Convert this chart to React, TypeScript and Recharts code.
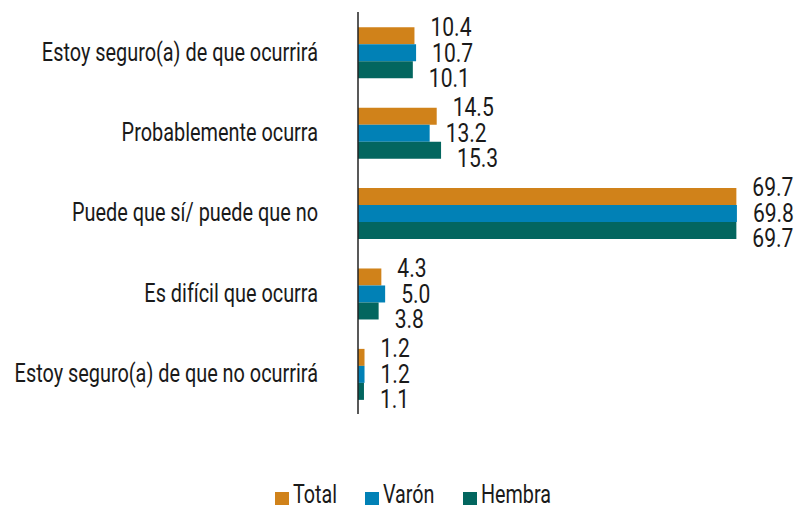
import { BarChart, Bar, XAxis, YAxis, LabelList } from "recharts";

const categories = [
  "Estoy seguro(a) de que ocurrirá",
  "Probablemente ocurra",
  "Puede que sí/ puede que no",
  "Es difícil que ocurra",
  "Estoy seguro(a) de que no ocurrirá",
];
const total = [10.4, 14.5, 69.7, 4.3, 1.2];
const varon = [10.7, 13.2, 69.8, 5.0, 1.2];
const hembra = [10.1, 15.3, 69.7, 3.8, 1.1];

const seriesNames = ["Total", "Varón", "Hembra"];
const colors = ["#D0821A", "#0181B6", "#03665F"];
const FONT = "Roboto, 'Noto Sans', sans-serif";
const FS = 26;
const SX_TEXT = 0.765; // squeeze to look like a condensed face
const SX_NUM = 0.81;
const INK = "#1a1a1a";

const data = categories.map((name, i) => ({
  name,
  total: total[i],
  varon: varon[i],
  hembra: hembra[i],
}));

const Squeezed = ({ x, y, anchor = "start", sx = SX_TEXT, size = FS, children }: any) => (
  <g transform={`translate(${x},${y}) scale(${sx},1)`}>
    <text
      x={0}
      y={0}
      textAnchor={anchor}
      dominantBaseline="central"
      fontSize={size}
      fontFamily={FONT}
      fill={INK}
    >
      {children}
    </text>
  </g>
);

const CatTick = (props: any) => {
  const { x, y, payload } = props;
  return (
    <Squeezed x={x} y={y} anchor="end">
      {payload.value}
    </Squeezed>
  );
};

// labels fan out a bit more than the bars do
const makeLabel = (dy: number) => (props: any) => {
  const { x, y, width, height, value } = props;
  return (
    <Squeezed x={x + width + 16} y={y + height / 2 + dy} sx={SX_NUM}>
      {Number(value).toFixed(1)}
    </Squeezed>
  );
};

const legendX = [275, 365, 463];

export default function App() {
  return (
    <div style={{ position: "absolute", left: 0, top: 0, width: 794, height: 508, background: "#fff" }}>
      <BarChart
        width={794}
        height={508}
        data={data}
        layout="vertical"
        margin={{ top: 12, right: 56, left: 0, bottom: 94 }}
        barCategoryGap="19%"
        barGap={0}
      >
        <XAxis type="number" domain={[0, 70]} hide />
        <YAxis
          type="category"
          dataKey="name"
          width={358}
          tickLine={false}
          tickMargin={34}
          axisLine={{ stroke: "#222", strokeWidth: 1.5 }}
          tick={<CatTick />}
          interval={0}
        />
        <Bar dataKey="total" fill={colors[0]} isAnimationActive={false}>
          <LabelList dataKey="total" content={makeLabel(-9)} />
        </Bar>
        <Bar dataKey="varon" fill={colors[1]} isAnimationActive={false}>
          <LabelList dataKey="varon" content={makeLabel(0)} />
        </Bar>
        <Bar dataKey="hembra" fill={colors[2]} isAnimationActive={false}>
          <LabelList dataKey="hembra" content={makeLabel(8)} />
        </Bar>
      </BarChart>
      <svg width={794} height={508} style={{ position: "absolute", left: 0, top: 0, pointerEvents: "none" }}>
        {seriesNames.map((s, i) => (
          <g key={s}>
            <rect x={legendX[i]} y={492} width={14} height={13} fill={colors[i]} />
            <Squeezed x={legendX[i] + 18} y={494} size={25} sx={0.79}>
              {s}
            </Squeezed>
          </g>
        ))}
      </svg>
    </div>
  );
}
